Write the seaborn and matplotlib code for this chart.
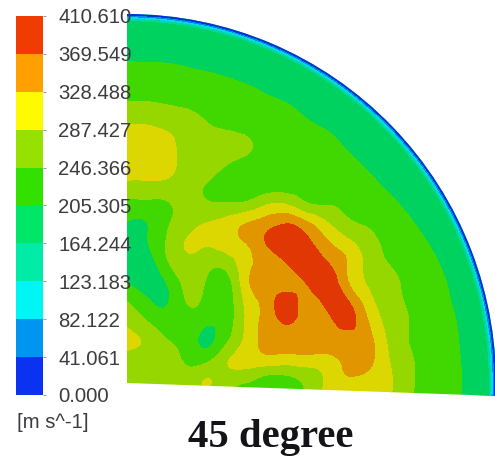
import numpy as np
import matplotlib
matplotlib.use("Agg")
import matplotlib.pyplot as plt
import matplotlib.tri as mtri
import seaborn as sns
from matplotlib.colors import ListedColormap
from matplotlib.patches import Wedge

# --- chart values ---
SPEED_LEVELS = [0.000, 41.061, 82.122, 123.183, 164.244, 205.305,
                246.366, 287.427, 328.488, 369.549, 410.610]
LEVEL_LABELS = ["0.000", "41.061", "82.122", "123.183", "164.244", "205.305",
                "246.366", "287.427", "328.488", "369.549", "410.610"]
UNIT_LABEL = "[m s^-1]"
TITLE = "45 degree"

LEGEND_COLORS = ["#0a32f0", "#0096f0", "#00f5f5", "#00eba5", "#00e669",
                 "#32e100", "#96e100", "#fffa00", "#ffa000", "#f03c00"]
FIELD_COLORS = ["#0032dc", "#008ce1", "#00dce1", "#00d7a0", "#00d25f",
                "#41d700", "#96d700", "#dcd700", "#e19600", "#e13705"]

# sample positions of the speed table (distance from the hub)
GRID_X = [0, 20, 40, 60, 80, 100, 120, 140, 160, 180, 200, 220, 240, 260, 280, 300, 320, 340, 360, 380]
GRID_Y = [380, 360, 340, 320, 300, 280, 260, 240, 220, 200, 180, 160, 140, 120, 100, 80, 60, 40, 20, 0, -20]

SPEED = [
    [166, 166, 166, 166, 166, 166, 166, 166, 166, 166, 166, 166, 166, 166, 166, 166, 166, 166, 166, 166],
    [167, 166, 166, 166, 166, 166, 166, 166, 166, 166, 166, 166, 166, 166, 166, 166, 166, 166, 166, 166],
    [187, 186, 185, 182, 178, 173, 167, 166, 166, 166, 166, 166, 166, 166, 166, 166, 166, 166, 166, 166],
    [207, 206, 205, 201, 197, 192, 185, 178, 169, 166, 166, 166, 166, 166, 166, 166, 166, 166, 166, 166],
    [228, 227, 226, 220, 215, 210, 204, 196, 187, 177, 167, 166, 166, 166, 166, 166, 166, 166, 166, 166],
    [248, 248, 244, 238, 231, 225, 218, 211, 205, 194, 183, 171, 166, 166, 166, 166, 166, 166, 166, 166],
    [284, 284, 275, 265, 247, 239, 232, 224, 217, 208, 199, 185, 173, 166, 166, 166, 166, 166, 166, 166],
    [300, 305, 298, 272, 262, 256, 250, 235, 228, 219, 213, 201, 188, 173, 166, 166, 166, 166, 166, 166],
    [303, 305, 300, 272, 260, 248, 238, 232, 230, 224, 219, 212, 201, 187, 171, 166, 166, 166, 166, 166],
    [283, 283, 280, 265, 246, 232, 225, 225, 228, 234, 229, 223, 213, 200, 186, 170, 166, 166, 166, 166],
    [235, 237, 243, 262, 250, 248, 252, 280, 280, 247, 242, 235, 224, 213, 199, 183, 168, 166, 166, 166],
    [203, 205, 240, 272, 288, 305, 328, 350, 367, 335, 290, 255, 241, 226, 211, 195, 178, 166, 166, 166],
    [178, 203, 250, 290, 292, 310, 330, 372, 395, 380, 335, 300, 265, 237, 221, 206, 189, 170, 166, 166],
    [185, 185, 240, 275, 262, 265, 315, 345, 370, 395, 372, 328, 278, 247, 230, 215, 198, 180, 166, 166],
    [208, 185, 207, 258, 240, 230, 318, 345, 350, 372, 395, 335, 285, 262, 238, 222, 205, 186, 166, 166],
    [250, 215, 203, 247, 230, 222, 300, 345, 392, 350, 382, 378, 310, 265, 244, 227, 209, 191, 171, 166],
    [280, 250, 225, 225, 210, 225, 295, 345, 372, 350, 355, 380, 335, 275, 248, 230, 213, 195, 175, 166],
    [300, 280, 250, 228, 198, 246, 300, 345, 350, 355, 350, 350, 345, 287, 248, 232, 215, 198, 178, 166],
    [262, 265, 262, 243, 248, 286, 300, 300, 295, 300, 305, 340, 340, 295, 255, 235, 218, 199, 179, 166],
    [262, 265, 265, 265, 290, 262, 245, 218, 225, 255, 295, 320, 310, 298, 256, 238, 220, 200, 180, 166],
    [262, 265, 265, 265, 262, 255, 240, 220, 225, 255, 290, 305, 300, 290, 254, 236, 219, 199, 179, 166],
]

# blade rim: speed falling to zero at the wall
RIM_R = [345, 360, 362.5, 364.5, 366, 367, 369]
RIM_SPEED = [185, 185, 145, 100, 60, 25, 10]

# --- layout (1 data unit = 1 pixel, origin on the hub) ---
HUB_X = 127
HUB_Y = 383
RADIUS = 369
START_DEG = -2
END_DEG = 90


def plot_field():
    sns.set_theme(style="white")
    plt.rcParams['font.family'] = ['Liberation Sans', 'DejaVu Sans']

    fig = plt.figure(figsize=(4.95, 4.57), dpi=100)
    ax = fig.add_axes([0, 0, 1, 1])
    ax.set_xlim(-HUB_X, 495 - HUB_X)
    ax.set_ylim(HUB_Y - 457, HUB_Y)
    ax.axis("off")

    field_cmap = ListedColormap(FIELD_COLORS)
    sector = Wedge((0, 0), RADIUS, START_DEG, END_DEG, transform=ax.transData,
                   facecolor="none", edgecolor="none")
    ax.add_patch(sector)

    # smooth contour lines through the table, like the solver's own plot
    xx, yy = np.meshgrid(GRID_X, GRID_Y)
    tri = mtri.Triangulation(xx.ravel(), yy.ravel())
    refiner = mtri.UniformTriRefiner(tri)
    fine_tri, fine_speed = refiner.refine_field(np.array(SPEED, dtype=float).ravel(), subdiv=3)
    cs = ax.tricontourf(fine_tri, fine_speed, levels=SPEED_LEVELS, cmap=field_cmap, extend="both")
    cs.set_clip_path(sector)

    # rim ring drawn on top, same scale
    angles = np.radians(np.linspace(START_DEG, END_DEG, 90))
    rr, aa = np.meshgrid(RIM_R, angles)
    rim_values = np.tile(RIM_SPEED, (len(angles), 1))
    rim = ax.contourf(rr * np.cos(aa), rr * np.sin(aa), rim_values,
                      levels=SPEED_LEVELS, cmap=field_cmap)
    rim.set_clip_path(sector)

    # legend bar
    cax = fig.add_axes([16 / 495, (457 - 395) / 457, 27 / 495, 379 / 457])
    bands = np.arange(len(LEGEND_COLORS))[::-1].reshape(-1, 1)
    sns.heatmap(bands, cmap=ListedColormap(LEGEND_COLORS), cbar=False, ax=cax,
                xticklabels=False, yticklabels=False)
    cax.set_yticks(np.arange(len(LEVEL_LABELS)))
    cax.set_yticklabels(LEVEL_LABELS[::-1], rotation=0, fontsize=14.6, color="#3c3c40")
    cax.tick_params(axis="y", left=False, right=True, labelleft=False, labelright=True,
                    length=2, width=0.6, color="#888888", pad=9)

    ax.text(17 - HUB_X, HUB_Y - 423, UNIT_LABEL, fontsize=14.6, color="#3c3c40",
            ha="left", va="center")
    ax.text(188 - HUB_X, HUB_Y - 447, TITLE, fontsize=29.3, fontweight="bold",
            family=["Liberation Serif", "DejaVu Serif"], color="#141418",
            ha="left", va="baseline")

    fig.savefig("out.png", dpi=100)


if __name__ == "__main__":
    plot_field()
